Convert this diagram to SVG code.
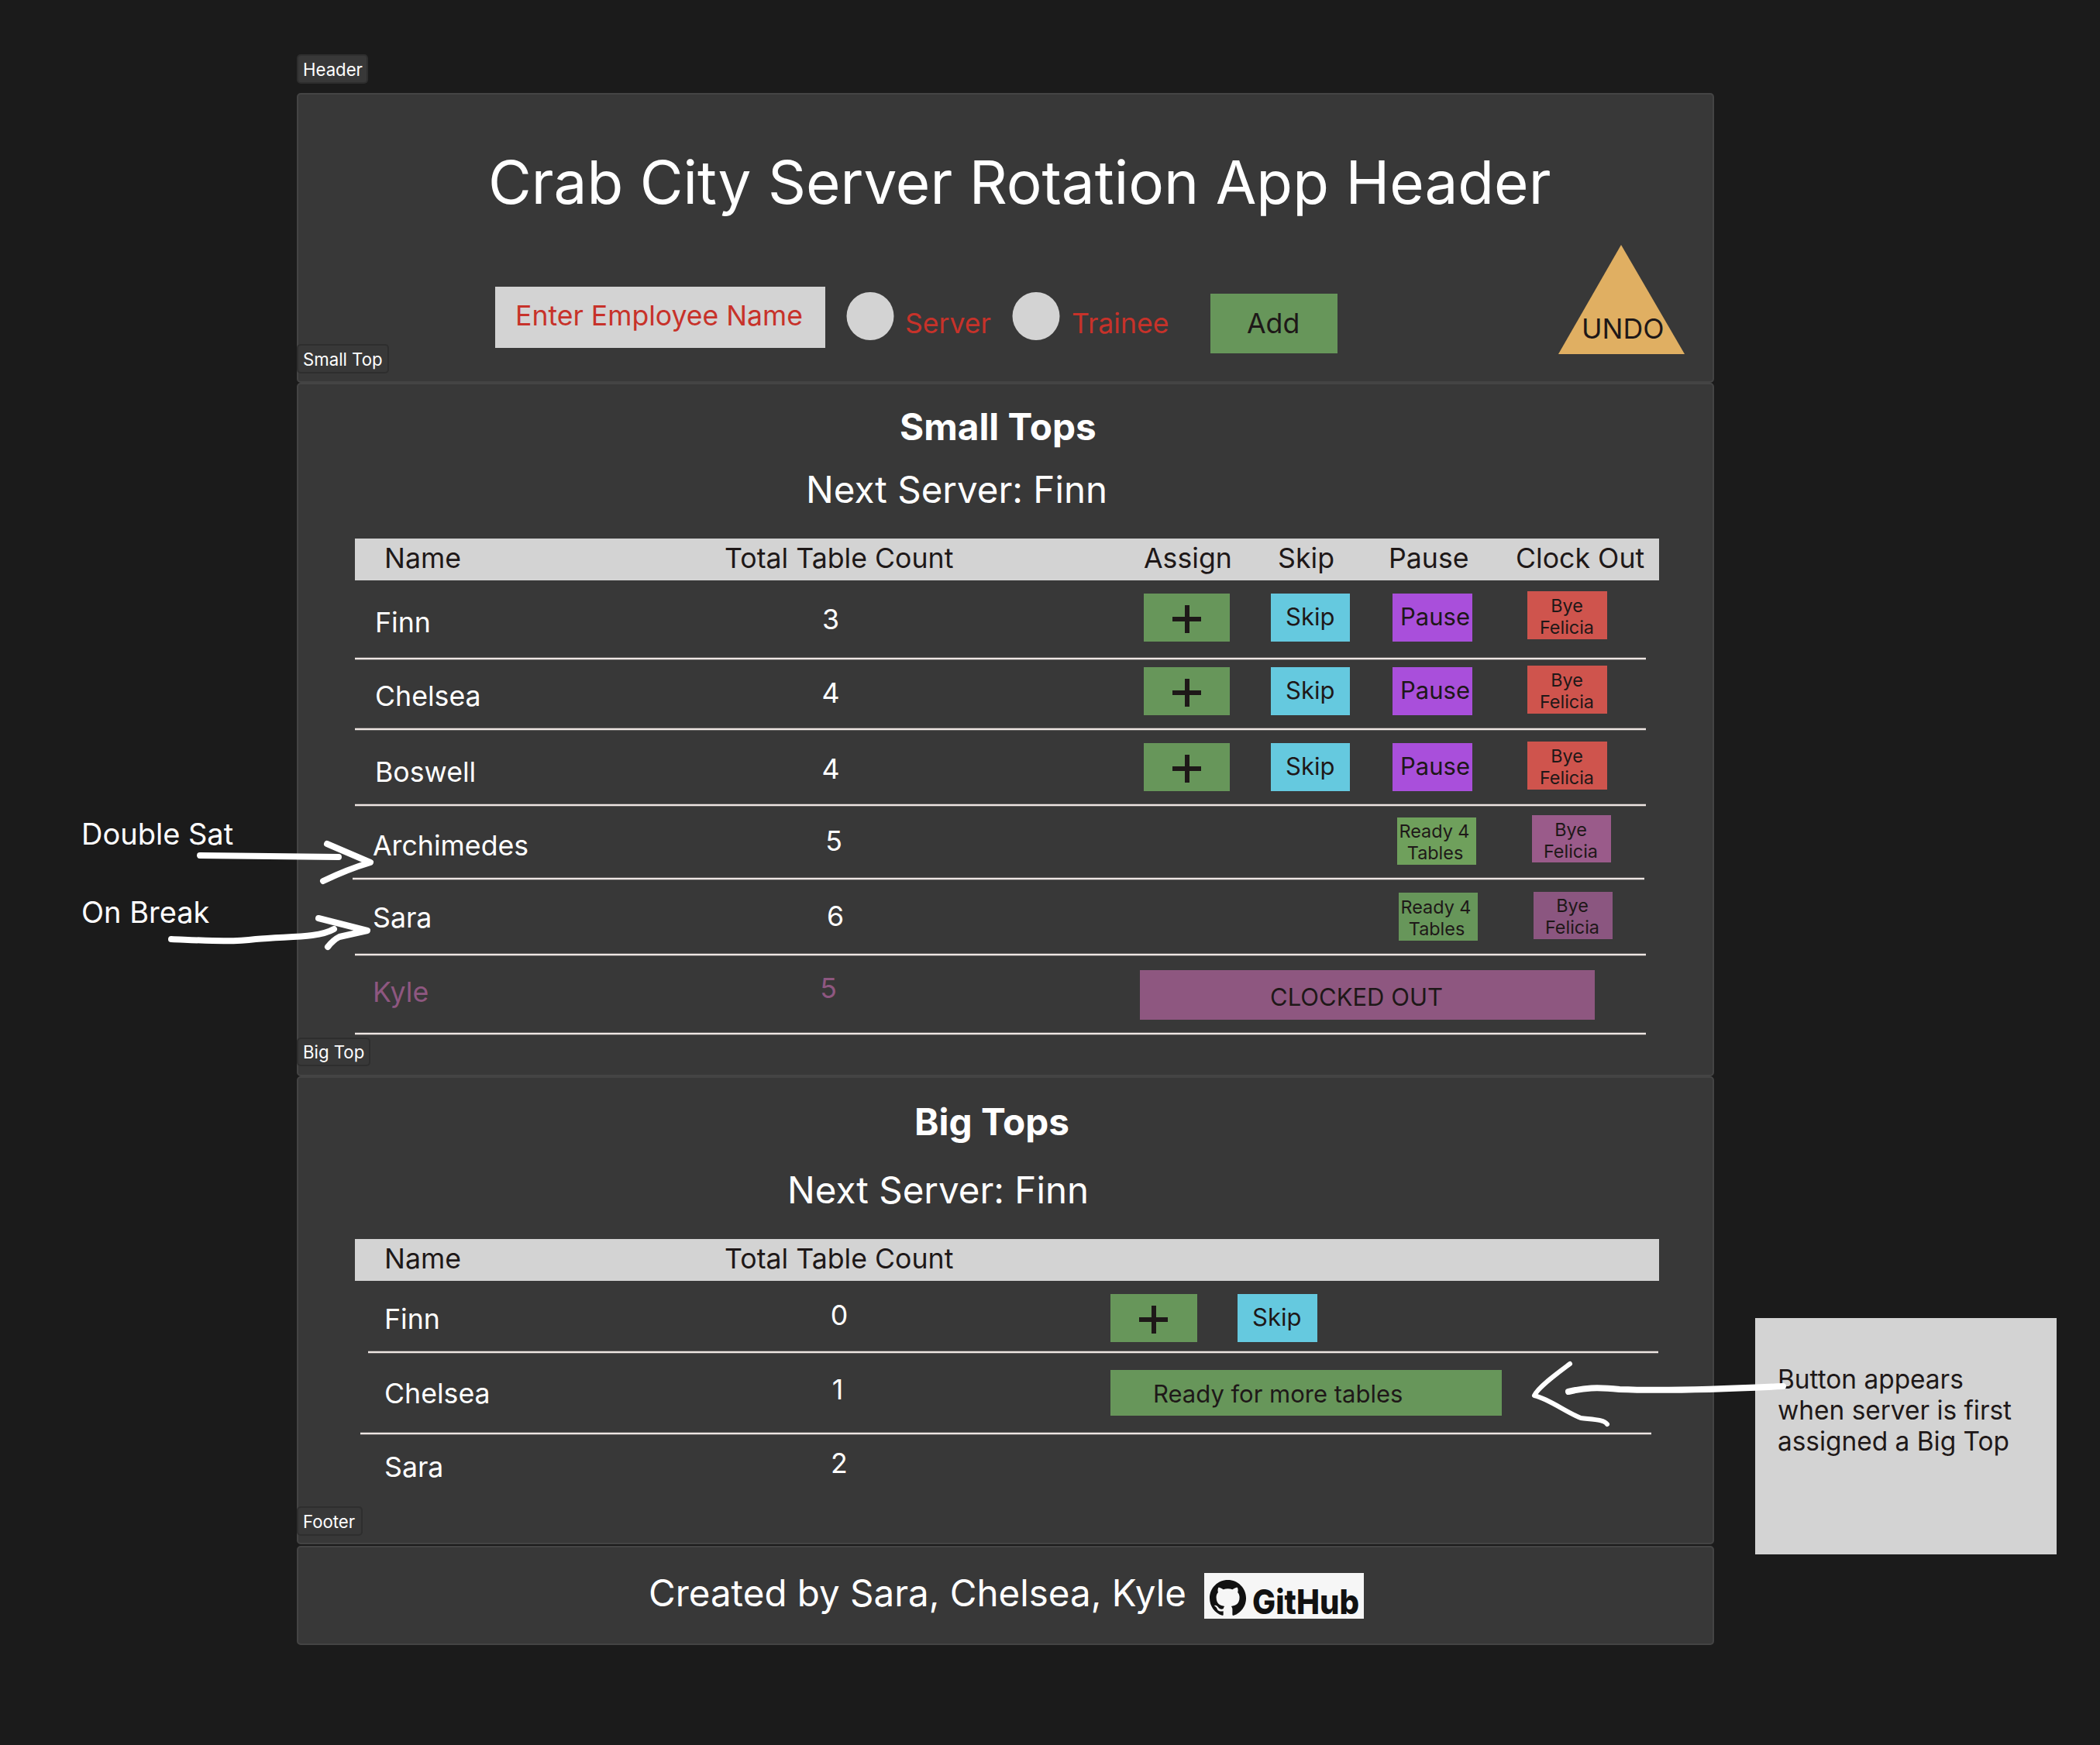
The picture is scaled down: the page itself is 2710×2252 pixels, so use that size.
<svg xmlns="http://www.w3.org/2000/svg" width="2710" height="2252" viewBox="0 0 2710 2252">
<style>
text{font-family:Inter,"Liberation Sans",sans-serif;fill:#fff}
.panel{fill:#383838;stroke:#444;stroke-width:2}
.tag{fill:#383838;stroke:#2e2e2e;stroke-width:2}
.tagt{font-size:22.200px}
.t36{font-size:35.700px}
.h{font-size:35.700px;fill:#1e1818}
.bold{font-size:47.700px;font-weight:700}
.next{font-size:47.500px}
.btn{font-size:31px;fill:#1e1818}
.sm{font-size:23.400px;fill:#1e1818;text-anchor:middle}
.mid{text-anchor:middle}
.red-t{font-size:35.600px;fill:#c7322a}
.note{font-size:33.400px;fill:#1e1818}
.side{font-size:38px}
.bar{fill:#d3d3d3}
.rule{stroke:#eee6e3;stroke-width:2.500;fill:none}
.green{fill:#67965a}.blue{fill:#65c9df}.purple{fill:#a94fdb}.red{fill:#cf544d}
.plus{stroke:#1e1818;stroke-width:6;fill:none}
.ink{fill:none;stroke:#fff;stroke-linecap:round;stroke-linejoin:round}
</style>
<rect width="2710" height="2252" fill="#1b1b1b"/>

<g id="header-panel">
<rect class="panel" x="384" y="121" width="1827" height="372" rx="4"/>
<text x="630" y="263" font-size="76.400">Crab City Server Rotation App Header</text>
</g>
<g id="tag-header"><rect class="tag" x="384" y="71" width="90" height="36" rx="4"/><text class="tagt" x="391" y="98">Header</text></g>
<g id="employee-input"><rect x="639" y="370" width="426" height="79" fill="#d3d3d3"/><text class="red-t" x="665" y="420">Enter Employee Name</text></g>
<g id="radio-server"><ellipse cx="1123" cy="408" rx="30.500" ry="31" fill="#d3d3d3"/><text class="red-t" x="1168" y="430">Server</text></g>
<g id="radio-trainee"><ellipse cx="1337" cy="408" rx="30.500" ry="31" fill="#d3d3d3"/><text class="red-t" x="1383" y="430">Trainee</text></g>
<g id="add-button"><rect class="green" x="1562" y="379" width="164" height="77"/><text class="h" x="1609" y="430">Add</text></g>
<g id="undo-button"><polygon points="2092,316 2011,457 2174,457" fill="#e0af62"/><text class="h" x="2041" y="437">UNDO</text></g>
<g id="tag-small-top"><rect class="tag" x="384" y="445" width="117" height="36" rx="4"/><text class="tagt" x="391" y="472">Small Top</text></g>

<g id="small-panel">
<rect class="panel" x="384" y="495" width="1827" height="893" rx="4"/>
<text class="bold" x="1161" y="568">Small Tops</text>
<text class="next" x="1040" y="649">Next Server: Finn</text>
<rect class="bar" x="458" y="695" width="1683" height="54"/>
<text class="h" x="496" y="733">Name</text>
<text class="h" x="935" y="733">Total Table Count</text>
<text class="h" x="1476" y="733">Assign</text>
<text class="h" x="1649" y="733">Skip</text>
<text class="h" x="1792" y="733">Pause</text>
<text class="h" x="1956" y="733">Clock Out</text>
<path class="rule" d="M458 850H2124M458 941H2124M458 1039H2124M455 1134H2122M458 1232H2124M458 1334H2124"/>
</g>

<g id="row-finn">
<text class="t36" x="484" y="816">Finn</text><text class="t36 mid" x="1072" y="812">3</text>
<rect class="green" x="1476" y="766" width="111" height="62"/><path class="plus" d="M1513 799H1550M1532 781V817"/>
<rect class="blue" x="1640" y="766" width="102" height="62"/><text class="btn" x="1659" y="807">Skip</text>
<rect class="purple" x="1797" y="766" width="103" height="62"/><text class="btn" x="1807" y="807">Pause</text>
<rect class="red" x="1971" y="763" width="103" height="62"/><text class="sm" x="2022" y="790">Bye</text><text class="sm" x="2022" y="818">Felicia</text>
</g>
<g id="row-chelsea">
<text class="t36" x="484" y="911">Chelsea</text><text class="t36 mid" x="1072" y="907">4</text>
<rect class="green" x="1476" y="861" width="111" height="62"/><path class="plus" d="M1513 894H1550M1532 876V912"/>
<rect class="blue" x="1640" y="861" width="102" height="62"/><text class="btn" x="1659" y="902">Skip</text>
<rect class="purple" x="1797" y="861" width="103" height="62"/><text class="btn" x="1807" y="902">Pause</text>
<rect class="red" x="1971" y="859" width="103" height="62"/><text class="sm" x="2022" y="886">Bye</text><text class="sm" x="2022" y="914">Felicia</text>
</g>
<g id="row-boswell">
<text class="t36" x="484" y="1009">Boswell</text><text class="t36 mid" x="1072" y="1005">4</text>
<rect class="green" x="1476" y="959" width="111" height="62"/><path class="plus" d="M1513 992H1550M1532 974V1010"/>
<rect class="blue" x="1640" y="959" width="102" height="62"/><text class="btn" x="1659" y="1000">Skip</text>
<rect class="purple" x="1797" y="959" width="103" height="62"/><text class="btn" x="1807" y="1000">Pause</text>
<rect class="red" x="1971" y="957" width="103" height="62"/><text class="sm" x="2022" y="984">Bye</text><text class="sm" x="2022" y="1012">Felicia</text>
</g>
<g id="row-archimedes">
<text class="t36" x="481" y="1104">Archimedes</text><text class="t36 mid" x="1076" y="1098">5</text>
<rect x="1803" y="1055" width="102" height="61" fill="#6fa05c"/><text class="sm" x="1851" y="1081">Ready 4</text><text class="sm" x="1852" y="1109">Tables</text>
<rect x="1977" y="1052" width="102" height="61" fill="#9a5b8a"/><text class="sm" x="2027" y="1079">Bye</text><text class="sm" x="2027" y="1107">Felicia</text>
</g>
<g id="row-sara">
<text class="t36" x="481" y="1197">Sara</text><text class="t36 mid" x="1078" y="1195">6</text>
<rect class="green" x="1805" y="1152" width="102" height="62"/><text class="sm" x="1853" y="1179">Ready 4</text><text class="sm" x="1854" y="1207">Tables</text>
<rect x="1979" y="1151" width="102" height="61" fill="#8b5680"/><text class="sm" x="2029" y="1177">Bye</text><text class="sm" x="2029" y="1205">Felicia</text>
</g>
<g id="row-kyle">
<text class="t36" x="481" y="1293" style="fill:#8e5780">Kyle</text><text class="t36 mid" x="1069" y="1288" style="fill:#8e5780">5</text>
<rect x="1471" y="1252" width="587" height="64" fill="#8e5780"/><text class="btn" x="1639" y="1298">CLOCKED OUT</text>
</g>
<g id="tag-big-top"><rect class="tag" x="384" y="1340" width="93" height="35" rx="4"/><text class="tagt" x="391" y="1366">Big Top</text></g>

<g id="big-panel">
<rect class="panel" x="384" y="1390" width="1827" height="602" rx="4"/>
<text class="bold" x="1180" y="1465">Big Tops</text>
<text class="next" x="1016" y="1553">Next Server: Finn</text>
<rect class="bar" x="458" y="1599" width="1683" height="54"/>
<text class="h" x="496" y="1637">Name</text>
<text class="h" x="935" y="1637">Total Table Count</text>
<path class="rule" d="M475 1745H2140M465 1850H2131"/>
</g>
<g id="big-row-finn">
<text class="t36" x="496" y="1715">Finn</text><text class="t36 mid" x="1083" y="1710">0</text>
<rect class="green" x="1433" y="1670" width="112" height="62"/><path class="plus" d="M1470 1703H1507M1489 1685V1721"/>
<rect class="blue" x="1597" y="1670" width="103" height="62"/><text class="btn" x="1616" y="1711">Skip</text>
</g>
<g id="big-row-chelsea">
<text class="t36" x="496" y="1811">Chelsea</text><text class="t36 mid" x="1081" y="1806">1</text>
<rect class="green" x="1433" y="1768" width="505" height="59"/><text class="btn" x="1488" y="1810">Ready for more tables</text>
</g>
<g id="big-row-sara">
<text class="t36" x="496" y="1906">Sara</text><text class="t36 mid" x="1083" y="1901">2</text>
</g>
<g id="tag-footer"><rect class="tag" x="384" y="1945" width="83" height="36" rx="4"/><text class="tagt" x="391" y="1972">Footer</text></g>

<g id="footer-panel">
<rect class="panel" x="384" y="1996" width="1827" height="126" rx="4"/>
<text x="837" y="2073" font-size="47.500">Created by Sara, Chelsea, Kyle</text>
</g>
<g id="github-badge">
<rect x="1554" y="2030" width="206" height="59" fill="#f6f6f6"/>
<path transform="translate(1561 2039) scale(2.940)" fill="#111" d="M8 0C3.58 0 0 3.58 0 8c0 3.54 2.29 6.53 5.47 7.59.4.07.55-.17.55-.38 0-.19-.01-.82-.01-1.49-2.01.37-2.53-.49-2.69-.94-.09-.23-.48-.94-.82-1.13-.28-.15-.68-.52-.01-.53.63-.01 1.08.58 1.23.82.72 1.21 1.87.87 2.33.66.07-.52.28-.87.51-1.07-1.78-.2-3.64-.89-3.64-3.95 0-.87.31-1.59.82-2.15-.08-.2-.36-1.02.08-2.12 0 0 .67-.21 2.2.82.64-.18 1.32-.27 2-.27s1.36.09 2 .27c1.53-1.04 2.2-.82 2.2-.82.44 1.1.16 1.92.08 2.12.51.56.82 1.27.82 2.15 0 3.07-1.87 3.75-3.65 3.95.29.25.54.73.54 1.48 0 1.07-.01 1.93-.01 2.2 0 .21.15.46.55.38A8.01 8.01 0 0 0 16 8c0-4.42-3.58-8-8-8z"/>
<text x="1616" y="2083" font-size="44" font-weight="800" textLength="138" lengthAdjust="spacingAndGlyphs" style="fill:#111">GitHub</text>
</g>

<g id="label-double-sat"><text class="side" x="105" y="1090">Double Sat</text></g>
<g id="label-on-break"><text class="side" x="105" y="1191">On Break</text></g>
<g id="note"><rect x="2265" y="1701" width="389" height="305" fill="#d3d3d3"/>
<text class="note" x="2294" y="1792">Button appears</text>
<text class="note" x="2294" y="1832">when server is first</text>
<text class="note" x="2294" y="1872">assigned a Big Top</text>
</g>

<g id="connectors">
<path class="ink" stroke-width="8" d="M258 1104L437 1106"/>
<path class="ink" stroke-width="8" d="M422 1089L478 1113Q448 1122 417 1137"/>
<path class="ink" stroke-width="8" d="M221 1212C270 1214 300 1216 330 1212C370 1208 410 1211 431 1199"/>
<path class="ink" stroke-width="8" d="M411 1185L474 1201L438 1209Q430 1213 423 1222"/>
<path class="ink" stroke-width="8" d="M2301 1789C2220 1793 2140 1795 2090 1793C2060 1790 2045 1791 2024 1796"/>
<path class="ink" stroke-width="6" d="M2026 1760C2010 1772 1985 1790 1980 1801C2000 1806 2020 1822 2040 1830C2058 1832 2070 1832 2074 1838"/>
</g>
</svg>
